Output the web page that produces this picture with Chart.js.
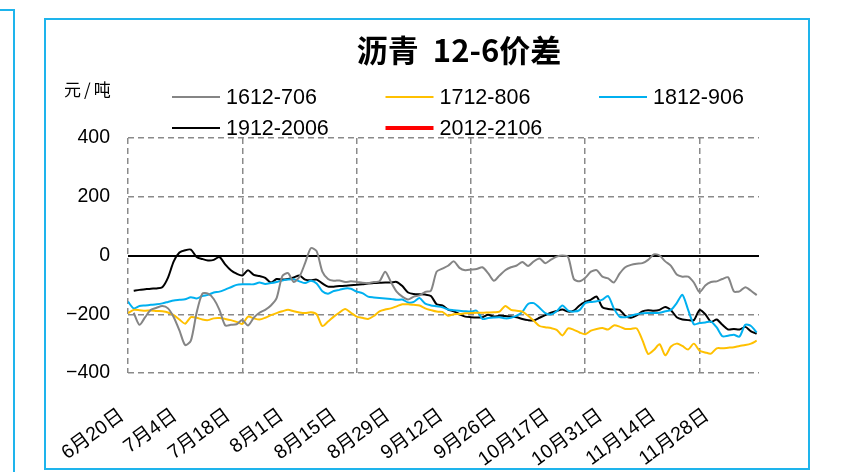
<!DOCTYPE html>
<html>
<head>
<meta charset="utf-8">
<script src="https://cdn.jsdelivr.net/npm/chart.js@4.4.0/dist/chart.umd.min.js"></script>
<style>
    html, body { margin: 0; padding: 0; background: #fff; }
    body { width: 846px; height: 472px; position: relative; overflow: hidden; }
    #chart { position: absolute; left: 0; top: 0; }
    .frame { position: absolute; border: 2px solid #1eb4ec; box-sizing: border-box; }
    #box-side { left: -100px; top: 9px; width: 115px; height: 600px; }
    #box-main { left: 44px; top: 18px; width: 766px; height: 452px; }
</style>
</head>
<body>
<div class="frame" id="box-side"></div>
<div class="frame" id="box-main"></div>
<canvas id="chart" width="846" height="472"></canvas>
<script>
// 沥青 12-6 价差 (元/吨), one value per trading day from 6月20日

const xLabels = ['6月20日', '7月4日', '7月18日', '8月1日', '8月15日', '8月29日',
                 '9月12日', '9月26日', '10月17日', '10月31日', '11月14日', '11月28日'];
const yTicks = [-400, -200, 0, 200, 400];
const gridDays = [0, 20, 40, 60, 80, 100];

const seriesNames = ['1612-706', '1712-806', '1812-906', '1912-2006', '2012-2106'];
const seriesColors = ['#858585', '#ffc000', '#00b0f0', '#000000', '#ff0000'];

const spread1612 = [
    null, -195, -236, -210, -185, -178, -172, -180, -210, -255,
    -305, -290, -195, -130, -130, -148, -185, -238, -236, -234,
    -220, -238, -212, -195, -185, -170, -145, -70, -60, -90,
    -72, -25, 25, 15, -55, -80, -86, -85, -90, -88,
    -90, -93, -94, -90, -88, -55, -90, -123, -140, -150,
    -140, -136, -124, -120, -55, -45, -35, -20, -42, -50,
    -48, -46, -40, -60, -86, -68, -50, -40, -34, -22,
    -36, -20, -10, -26, -14, -4, 0, -5, -80, -88,
    -76, -55, -50, -72, -78, -92, -62, -40, -32, -28,
    -26, -15, 4, 0, -20, -35, -65, -72, -72, -92,
    -125, -102, -90, -88, -80, -74, -122, -122, -108, -120, -135
];
const spread1712 = [
    -196, -185, -186, -188, -187, -189, -190, -194, -203, -218,
    -232, -210, -212, -218, -220, -214, -213, -216, -220, -226,
    -233, -208, -214, -218, -212, -203, -196, -190, -185, -190,
    -194, -196, -193, -200, -240, -225, -208, -194, -182, -195,
    -208, -212, -216, -206, -190, -184, -180, -173, -166, -166,
    -168, -170, -180, -186, -191, -192, -205, -200, -199, -197,
    -196, -195, -195, -194, -193, -191, -172, -185, -188, -191,
    -205, -222, -240, -244, -247, -253, -272, -248, -253, -262,
    -268, -256, -250, -247, -252, -238, -242, -250, -250, -248,
    -288, -335, -322, -302, -340, -310, -300, -308, -320, -300,
    -324, -330, -334, -316, -316, -314, -312, -308, -305, -300, -290
];
const spread1812 = [
    -157, -180, -172, -170, -168, -166, -163, -158, -153, -151,
    -149, -142, -146, -138, -134, -126, -123, -116, -108, -100,
    -98, -98, -98, -92, -97, -94, -90, -85, -82, -81,
    -88, -94, -86, -95, -122, -130, -121, -117, -112, -113,
    -123, -128, -140, -143, -145, -146, -148, -151, -150, -160,
    -158, -145, -164, -170, -173, -176, -184, -186, -188, -190,
    -191, -188, -216, -213, -211, -210, -214, -212, -205, -192,
    -165, -162, -178, -196, -201, -190, -170, -188, -191, -186,
    -162, -158, -156, -150, -138, -180, -208, -210, -205, -200,
    -197, -196, -196, -195, -190, -185, -162, -134, -185, -234,
    -230, -228, -225, -245, -275, -273, -270, -276, -236, -240, -262
];
const spread1912 = [
    null, -120, -117, -115, -113, -112, -108, -75, -20, 10,
    18, 20, -5, -12, -17, -15, -5, -30, -50, -62,
    -68, -50, -66, -70, -76, -92, -80, -82, -80, -75,
    -68, -82, -84, -82, -95, -106, -106, -104, -103, -101,
    -100, -98, -95, -94, -93, -92, -92, -90, -104, -126,
    -131, -132, -133, -138, -166, -170, -184, -190, -200, -208,
    -210, -211, -210, -202, -208, -205, -206, -208, -210, -216,
    -220, -221, -212, -203, -195, -189, -184, -191, -188, -170,
    -158, -150, -140, -176, -182, -184, -185, -205, -212, -204,
    -190, -186, -188, -185, -175, -186, -210, -218, -220, -220,
    -186, -200, -226, -218, -236, -252, -250, -252, -243, -258, -266
];
const spread2012 = [];

const seriesValues = [spread1612, spread1712, spread1812, spread1912, spread2012];
const seriesWidths = [2, 2, 2, 2, 4];

const gridGray = '#8a8a8a';
const cjk = '"Noto Sans CJK SC", "Liberation Sans", sans-serif';

Chart.defaults.font.family = '"Liberation Sans", "Noto Sans CJK SC", sans-serif';
Chart.defaults.color = '#000';

// title, unit and the legend grid are drawn here
const decorPlugin = {
    id: 'decor',
    afterDraw(chart) {
        const { ctx, chartArea } = chart;
        ctx.save();

        ctx.fillStyle = '#000';
        ctx.textAlign = 'center';
        ctx.textBaseline = 'middle';
        ctx.font = 'bold 31px ' + cjk;
        ctx.fillText('沥青  12-6价差', 459, 50);

        ctx.textAlign = 'left';
        ctx.font = '17px ' + cjk;
        ctx.letterSpacing = '3px';
        ctx.fillText('元/吨', 64, 90);
        ctx.letterSpacing = '0px';

        ctx.font = '21.5px "Liberation Sans", sans-serif';
        chart.data.datasets.forEach((ds, i) => {
            const col = i % 3;
            const row = Math.floor(i / 3);
            const x = chartArea.left + 44 + col * 213.5;
            const y = 97 + row * 31;
            ctx.strokeStyle = ds.borderColor;
            ctx.lineWidth = ds.borderWidth;
            ctx.beginPath();
            ctx.moveTo(x, y);
            ctx.lineTo(x + 48, y);
            ctx.stroke();
            ctx.fillStyle = '#000';
            ctx.fillText(ds.label, x + 54, y + 1);
        });
        ctx.restore();
    }
};

const chart = new Chart(document.getElementById('chart'), {
    type: 'line',
    data: {
        datasets: seriesNames.map((name, i) => ({
            label: name,
            data: seriesValues[i].map((v, day) => ({ x: day, y: v })),
            borderColor: seriesColors[i],
            backgroundColor: seriesColors[i],
            borderWidth: seriesWidths[i],
            pointRadius: 0,
            tension: 0.25,
            fill: false
        }))
    },
    options: {
        responsive: false,
        animation: false,
        layout: { padding: { left: 0, right: 87, top: 138, bottom: 0 } },
        plugins: {
            legend: { display: false },
            title: { display: false },
            tooltip: { enabled: false }
        },
        scales: {
            x: {
                type: 'linear',
                position: 'bottom',
                min: 0,
                max: 110.4,
                afterBuildTicks: axis => { axis.ticks = gridDays.map(v => ({ value: v })); },
                afterFit: axis => { axis.height = 0; },
                ticks: { display: false },
                grid: { color: gridGray, lineWidth: 1.5, drawTicks: false },
                border: { display: false, dash: [6, 4] }
            },
            xl: {
                type: 'linear',
                position: 'bottom',
                weight: 1,
                min: 0,
                max: 11.865,
                afterBuildTicks: axis => { axis.ticks = xLabels.map((_, i) => ({ value: i })); },
                afterFit: axis => { axis.height = 99; },
                ticks: {
                    autoSkip: false,
                    minRotation: 36,
                    maxRotation: 36,
                    padding: 23,
                    labelOffset: -6,
                    font: { size: 19.5 },
                    callback: v => xLabels[v]
                },
                grid: { display: false },
                border: { display: false }
            },
            y: {
                min: -400,
                max: 400,
                afterBuildTicks: axis => { axis.ticks = yTicks.map(v => ({ value: v })); },
                afterFit: axis => { axis.width = 128; },
                ticks: {
                    padding: 18,
                    font: { size: 19.5 },
                    callback: v => (v < 0 ? '\u2212' + Math.abs(v) : String(v))
                },
                grid: {
                    color: c => (c.tick && c.tick.value === 0 ? '#000' : gridGray),
                    lineWidth: c => (c.tick && c.tick.value === 0 ? 2 : 1.5),
                    drawTicks: false
                },
                border: {
                    display: false,
                    dash: c => (c.tick && c.tick.value === 0 ? [] : [6, 4])
                }
            }
        }
    },
    plugins: [decorPlugin]
});
</script>
</body>
</html>
